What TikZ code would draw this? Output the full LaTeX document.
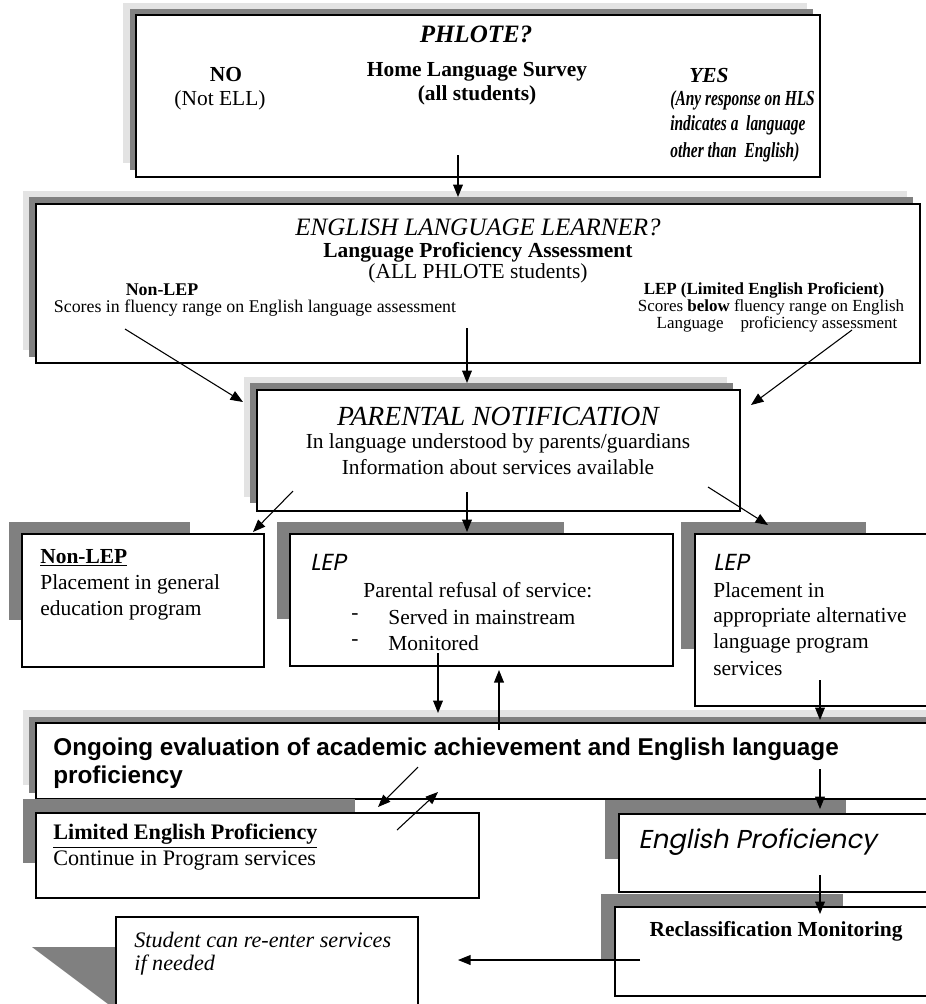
\documentclass[tikz,border=0pt]{standalone}
\usepackage{fontspec}
\usepackage{graphicx}
\setmainfont{Liberation Serif}
\newfontfamily\helv{Liberation Sans}
\newfontfamily\goth[FakeSlant=0.2]{Poppins}
\usetikzlibrary{arrows.meta}

\tikzset{
  lite/.style={fill=black!11, draw=none},
  dark/.style={fill=black!50, draw=none},
  card/.style={fill=white, draw=black, line width=1.1pt},
  link/.style={-{Triangle[length=7pt,width=5.5pt]}, line width=0.6pt},
  txt/.style={inner sep=0pt, font=\fontsize{12}{14}\selectfont},
  small/.style={inner sep=0pt, font=\fontsize{10}{12}\selectfont},
  head/.style={inner sep=0pt, font=\fontsize{14}{17}\selectfont\itshape},
  gothic/.style={inner sep=0pt, font=\fontsize{13}{16}\selectfont\goth},
  yesline/.style={txt, anchor=west, font=\fontsize{12}{14}\selectfont\bfseries\itshape},
}
\newcommand{\narrow}[1]{\scalebox{0.72}[1]{#1}}

\begin{document}
\begin{tikzpicture}[x=0.56pt, y=-0.56pt]
                \useasboundingbox (0,0) rectangle (926,1004);
                \clip (0,0) rectangle (926,1004);

                % PHLOTE box
                \path[lite] (123,3) rectangle (807,163);
                \path[dark] (130,9) rectangle (813,170);
                \path[card] (136,15) rectangle (820,177);
                \node[head, font=\fontsize{14}{17}\selectfont\bfseries\itshape] (phq) at (476,34) {PHLOTE?};
                \node[txt, font=\fontsize{12}{14}\selectfont\bfseries] (hls) at (477,72) {Home Language Survey};
                \node[txt, font=\fontsize{12}{14}\selectfont\bfseries] (alls) at (477,95) {(all students)};
                \node[txt, font=\fontsize{12}{14}\selectfont\bfseries] (no) at (226,75) {NO};
                \node[txt] (notell) at (220,100) {(Not ELL)};
                \node[txt, font=\fontsize{12}{14}\selectfont\bfseries\itshape] (yes) at (709,76) {YES};
                \node[yesline] (any1) at (670,100) {\narrow{(Any response on HLS}};
                \node[yesline] (any2) at (670,125) {\narrow{indicates a\ \ language}};
                \node[yesline] (any3) at (670,152) {\narrow{other than\ \ English)}};

                % ELL box
                \path[lite] (23,191) rectangle (907,350);
                \path[dark] (29,197) rectangle (913,357);
                \path[card] (36,204) rectangle (920,363);
                \node[head] (ell) at (478,227) {ENGLISH LANGUAGE LEARNER?};
                \node[txt, font=\fontsize{12}{14}\selectfont\bfseries] (lpa) at (478,252) {Language Proficiency Assessment};
                \node[txt] (allp) at (478,273) {(ALL PHLOTE students)};
                \node[small, font=\fontsize{10}{12}\selectfont\bfseries] (nonlep) at (162,290) {Non-LEP};
                \node[small] (fluent) at (255,308) {Scores in fluency range on English language assessment};
                \node[small, font=\fontsize{9.5}{11}\selectfont\bfseries] (leph) at (764,290) {LEP (Limited English Proficient)};
                \node[small, font=\fontsize{9.5}{11}\selectfont] (below1) at (771,307) {Scores \textbf{below} fluency range on English};
                \node[small, font=\fontsize{9.5}{11}\selectfont] (below2) at (777,324) {Language\quad proficiency assessment};

                % Parental notification
                \path[lite] (244,377) rectangle (727,497);
                \path[dark] (250,383) rectangle (733,503);
                \path[card] (257,390) rectangle (740,511);
                \node[head, font=\fontsize{15.5}{18}\selectfont\itshape] (par) at (498,416) {PARENTAL NOTIFICATION};
                \node[txt] (par1) at (498,443) {In language understood by parents/guardians};
                \node[txt] (par2) at (498,467) {Information about services available};

                % Placement boxes
                \path[dark] (9,522) rectangle (190,620);
                \path[card] (22,534) rectangle (264,667);
                \node[txt, anchor=west, font=\fontsize{12}{14}\selectfont\bfseries] (nl0) at (40,558) {\underline{Non-LEP}};
                \node[txt, anchor=west] (nl1) at (40,584) {Placement in general};
                \node[txt, anchor=west] (nl2) at (40,610) {education program};

                \path[dark] (277,522) rectangle (564,619);
                \path[card] (290,534) rectangle (673,666);
                \node[gothic, anchor=west] (lm0) at (310,562) {LEP};
                \node[txt, anchor=west] (lm1) at (363,590) {Parental refusal of service:};
                \node[txt, anchor=west] (lm2d) at (351,617) {-};
                \node[txt, anchor=west] (lm2) at (388,617) {Served in mainstream};
                \node[txt, anchor=west] (lm3d) at (351,643) {-};
                \node[txt, anchor=west] (lm3) at (388,643) {Monitored};

                \path[dark] (681,522) rectangle (866,649);
                \path[card] (695,534) rectangle (940,706);
                \node[gothic, anchor=west] (lr0) at (713,562) {LEP};
                \node[txt, anchor=west] (lr1) at (713,590) {Placement in};
                \node[txt, anchor=west] (lr2) at (713,617) {appropriate alternative};
                \node[txt, anchor=west] (lr3) at (713,643) {language program};
                \node[txt, anchor=west] (lr4) at (713,669) {services};

                % Ongoing evaluation
                \path[lite] (23,710) rectangle (940,785);
                \path[dark] (29,717) rectangle (940,793);
                \path[card] (36,723) rectangle (940,799);
                \node[txt, anchor=west, font=\fontsize{13.6}{16}\selectfont\helv\bfseries] (ong1) at (53,749) {Ongoing evaluation of academic achievement and English language};
                \node[txt, anchor=west, font=\fontsize{13.6}{16}\selectfont\helv\bfseries] (ong2) at (53,777) {proficiency};

                \path[dark] (23,799) rectangle (355,863);
                \path[card] (36,813) rectangle (479,898);
                \node[txt, anchor=west, font=\fontsize{12.4}{14}\selectfont\bfseries] (lim0) at (53,836) {\underline{Limited English Proficiency}};
                \node[txt, anchor=west, font=\fontsize{12.4}{14}\selectfont] (lim1) at (53,861) {Continue in Program services};

                \path[dark] (605,800) rectangle (846,859);
                \path[card] (619,814) rectangle (940,892);
                \node[gothic, anchor=west, font=\fontsize{14.5}{17}\selectfont\goth] (engp) at (638,842) {English Proficiency};

                \path[dark] (601,894) rectangle (843,959);
                \path[card] (615,907) rectangle (940,996);
                \node[txt, font=\fontsize{12}{14}\selectfont\bfseries] (recl) at (776,931) {Reclassification Monitoring};

                \path[dark] (32,947) -- (116,947) -- (116,1010) -- cycle;
                \path[card] (116,917) rectangle (418,1010);
                \node[txt, anchor=west, font=\fontsize{12.4}{14}\selectfont\itshape] (stu1) at (134,940) {Student can re-enter services};
                \node[txt, anchor=west, font=\fontsize{12.4}{14}\selectfont\itshape] (stu2) at (134,965) {if needed};

                % Arrow ends
                \coordinate (phOut) at (458,155);   \coordinate (ellIn) at (458,197);
                \coordinate (ellL) at (125,329);    \coordinate (parL) at (243,402);
                \coordinate (ellM) at (467,328);    \coordinate (parM) at (467,383);
                \coordinate (ellR) at (852,330);    \coordinate (parR) at (751,405);
                \coordinate (parOutL) at (293,491); \coordinate (nlIn) at (253,532);
                \coordinate (parOutM) at (467,492); \coordinate (lmIn) at (467,532);
                \coordinate (parOutR) at (708,487); \coordinate (lrIn) at (768,525);
                \coordinate (lmOut) at (438,653);   \coordinate (ongInM) at (438,713);
                \coordinate (ongOutM) at (499,730); \coordinate (lmBack) at (499,670);
                \coordinate (lrOut) at (820,680);   \coordinate (ongInR) at (820,720);
                \coordinate (ongOutL) at (418,767); \coordinate (limIn) at (378,807);
                \coordinate (limOut) at (397,830);  \coordinate (ongBack) at (438,792);
                \coordinate (ongOutR) at (820,769); \coordinate (engIn) at (820,809);
                \coordinate (engOut) at (820,875);  \coordinate (reclIn) at (820,914);
                \coordinate (reclOut) at (640,960); \coordinate (stuIn) at (458,960);

                % Arrows
                \draw[link] (phOut) -- (ellIn);
                \draw[link] (ellL) -- (parL);
                \draw[link] (ellM) -- (parM);
                \draw[link] (ellR) -- (parR);
                \draw[link] (parOutL) -- (nlIn);
                \draw[link] (parOutM) -- (lmIn);
                \draw[link] (parOutR) -- (lrIn);
                \draw[link] (lmOut) -- (ongInM);
                \draw[link] (ongOutM) -- (lmBack);
                \draw[link] (lrOut) -- (ongInR);
                \draw[link] (ongOutL) -- (limIn);
                \draw[link] (limOut) -- (ongBack);
                \draw[link] (ongOutR) -- (engIn);
                \draw[link] (engOut) -- (reclIn);
                \draw[link] (reclOut) -- (stuIn);
            \end{tikzpicture}
\end{document}
